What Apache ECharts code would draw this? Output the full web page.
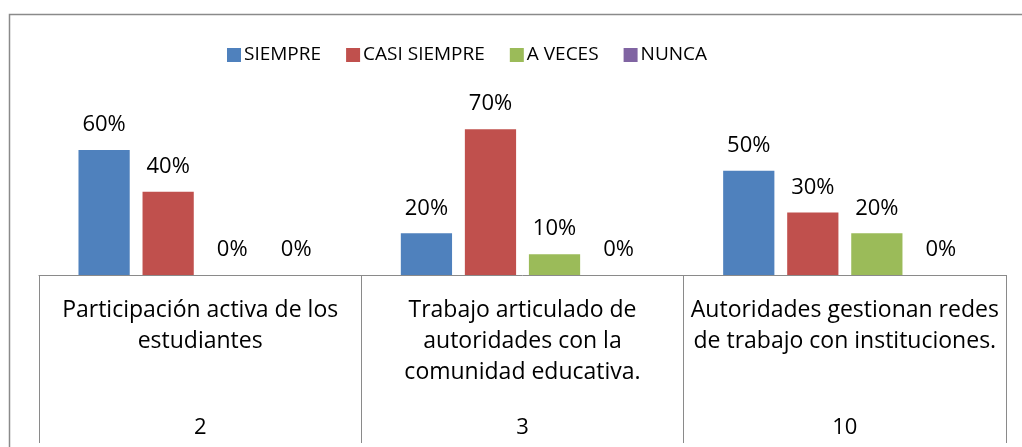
<!DOCTYPE html>
<html>
<head>
<meta charset="utf-8">
<script src="https://cdn.jsdelivr.net/npm/echarts@6/dist/echarts.min.js"></script>
<style>
  html, body { margin: 0; padding: 0; background: #fff; }
  #chart { width: 1022px; height: 447px; }
</style>
</head>
<body>
<div id="chart"></div>
<script>
// Survey items (wrapped as shown) and their item numbers
const categories = [
  'Participación activa de los\nestudiantes',
  'Trabajo articulado de\nautoridades con la\ncomunidad educativa.',
  'Autoridades gestionan redes\nde trabajo con instituciones.'
];
const itemNumbers = ['2', '3', '10'];

// Response percentages per option
const siempre     = [60, 20, 50];
const casiSiempre = [40, 70, 30];
const aVeces      = [0, 10, 20];
const nunca       = [0, 0, 0];

const seriesNames  = ['SIEMPRE', 'CASI SIEMPRE', 'A VECES', 'NUNCA'];
const seriesValues = [siempre, casiSiempre, aVeces, nunca];
const colors = ['#4F81BD', '#C0504D', '#9BBB59', '#8064A2'];

const FONT = '"Open Sans", Lato, sans-serif';

const chart = echarts.init(document.getElementById('chart'), null, { renderer: 'canvas' });

chart.setOption({
  animation: false,
  color: colors,
  textStyle: { fontFamily: FONT, color: '#000' },
  legend: {
    left: 227,
    top: 45,
    padding: 0,
    itemWidth: 14,
    itemHeight: 14,
    itemGap: 25,
    icon: 'rect',
    textStyle: { fontFamily: FONT, fontSize: 19, lineHeight: 20, color: '#000', padding: [0, 0, 0, -2] },
    data: seriesNames
  },
  grid: { left: 39, right: 16, top: 108.3, bottom: 172, containLabel: false },
  xAxis: [
    {
      type: 'category',
      data: categories,
      position: 'bottom',
      axisLine: { show: true, lineStyle: { color: '#8a8a8a', width: 1 } },
      axisTick: { show: true, length: 168, lineStyle: { color: '#8a8a8a', width: 1 } },
      axisLabel: {
        interval: 0,
        margin: 20,
        fontFamily: FONT,
        fontSize: 23,
        lineHeight: 31,
        color: '#000',
        align: 'center',
        verticalAlign: 'top'
      }
    },
    {
      type: 'category',
      data: itemNumbers,
      position: 'bottom',
      axisLine: { show: false },
      axisTick: { show: false },
      axisLabel: {
        interval: 0,
        margin: 137,
        fontFamily: FONT,
        fontSize: 22,
        lineHeight: 31,
        color: '#000',
        verticalAlign: 'top'
      }
    }
  ],
  yAxis: {
    type: 'value',
    min: 0,
    max: 80,
    show: false,
    splitLine: { show: false }
  },
  series: seriesNames.map((name, i) => ({
    name: name,
    type: 'bar',
    xAxisIndex: 0,
    data: seriesValues[i],
    barGap: '25%',
    barCategoryGap: '24.5%',
    itemStyle: { color: colors[i] },
    label: {
      show: true,
      position: 'top',
      distance: 14,
      formatter: '{c}%',
      fontFamily: FONT,
      fontSize: 22,
      color: '#000'
    }
  })),
  graphic: [
    {
      type: 'rect',
      silent: true,
      shape: { x: 9.5, y: 14.5, width: 1040, height: 460 },
      style: { fill: null, stroke: '#8a8a8a', lineWidth: 1.5 }
    }
  ]
});
</script>
</body>
</html>
